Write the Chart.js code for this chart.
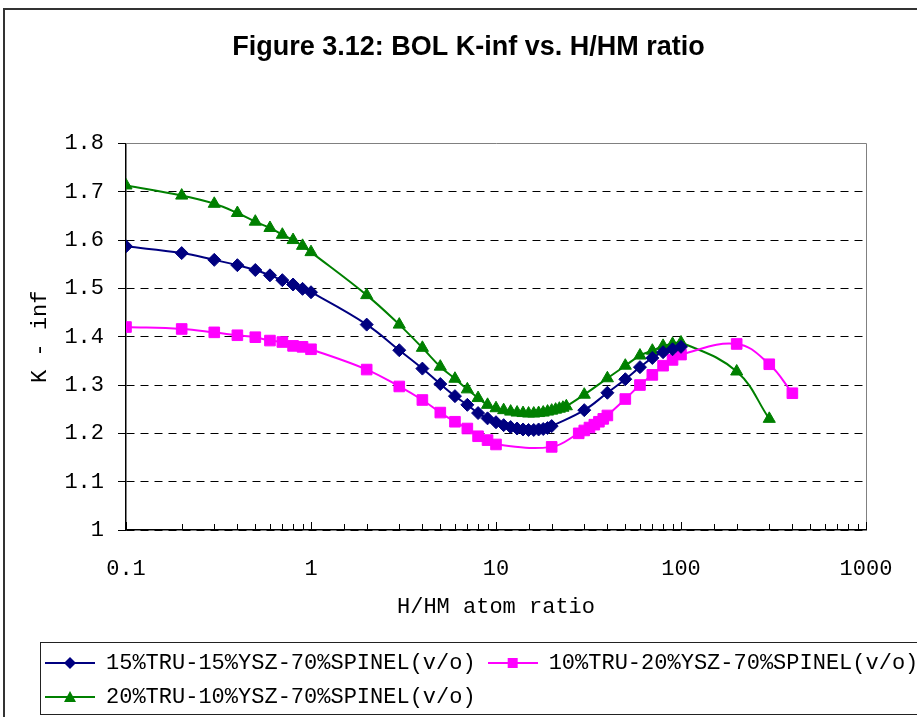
<!DOCTYPE html>
<html>
<head>
<meta charset="utf-8">
<script src="https://cdn.jsdelivr.net/npm/chart.js"></script>
<style>
  html, body { margin: 0; padding: 0; background: #fff; overflow: hidden; width: 917px; height: 717px; }
  #frame { position: absolute; left: 3px; top: 8px; width: 1000px; height: 800px; border-left: 2px solid #333; border-top: 2px solid #333; }
  #c { position: absolute; left: 0; top: 0; }
</style>
</head>
<body>
<div id="frame"></div>
<canvas id="c" width="950" height="740"></canvas>
<script>
// H/HM atom ratio for each series
const blueX  = [0.1, 0.2, 0.3, 0.4, 0.5, 0.6, 0.7, 0.8, 0.9, 1, 2, 3, 4, 5, 6, 7, 8, 9,
                10, 11, 12, 13, 14, 15, 16, 17, 18, 19, 20, 30, 40, 50, 60, 70, 80, 90, 100];
const blueK  = [1.587, 1.573, 1.559, 1.548, 1.538, 1.527, 1.517, 1.508, 1.499, 1.492,
                1.425, 1.372, 1.334, 1.302, 1.277, 1.259, 1.242, 1.231,
                1.223, 1.217, 1.213, 1.210, 1.208, 1.207, 1.207, 1.208, 1.209, 1.211, 1.215,
                1.248, 1.284, 1.312, 1.337, 1.356, 1.368, 1.374, 1.379];

const pinkX  = [0.1, 0.2, 0.3, 0.4, 0.5, 0.6, 0.7, 0.8, 0.9, 1, 2, 3, 4, 5, 6, 7, 8, 9, 10,
                20, 28, 30, 32, 34, 36, 38, 40, 50, 60, 70, 80, 90, 100, 200, 300, 400];
const pinkK  = [1.420, 1.416, 1.409, 1.403, 1.399, 1.392, 1.389, 1.381, 1.379, 1.374,
                1.332, 1.297, 1.269, 1.243, 1.224, 1.210, 1.194, 1.186, 1.177,
                1.172, 1.200, 1.206, 1.212, 1.218, 1.224, 1.230, 1.237,
                1.271, 1.300, 1.321, 1.340, 1.352, 1.363, 1.385, 1.343, 1.283];

const greenX = [0.1, 0.2, 0.3, 0.4, 0.5, 0.6, 0.7, 0.8, 0.9, 1, 2, 3, 4, 5, 6, 7, 8, 9,
                10, 11, 12, 13, 14, 15, 16, 17, 18, 19, 20, 21, 22, 23, 24,
                30, 40, 50, 60, 70, 80, 90, 100, 200, 300];
const greenK = [1.713, 1.692, 1.675, 1.656, 1.638, 1.625, 1.611, 1.600, 1.588, 1.575,
                1.486, 1.425, 1.377, 1.338, 1.313, 1.291, 1.273, 1.259,
                1.252, 1.248, 1.245, 1.243, 1.242, 1.241, 1.241, 1.242, 1.243, 1.245, 1.247, 1.249, 1.251, 1.253, 1.256,
                1.280, 1.314, 1.340, 1.361, 1.371, 1.381, 1.385, 1.388, 1.328, 1.230];

const seriesNames = ['15%TRU-15%YSZ-70%SPINEL(v/o)', '10%TRU-20%YSZ-70%SPINEL(v/o)', '20%TRU-10%YSZ-70%SPINEL(v/o)'];
const xTickLabels = [0.1, 1, 10, 100, 1000];
const yTicks = [1, 1.1, 1.2, 1.3, 1.4, 1.5, 1.6, 1.7, 1.8];

const W = 950;
const mono = 'Liberation Mono, DejaVu Sans Mono, monospace';

function pts(xs, ys) {
  return xs.map((x, i) => ({ x: x, y: ys[i] }));
}

// legend icons: short line with the marker in the middle
function icon(color, shape) {
  const c = document.createElement('canvas');
  c.width = 50; c.height = 16;
  const g = c.getContext('2d');
  g.strokeStyle = color; g.fillStyle = color; g.lineWidth = 2;
  g.beginPath(); g.moveTo(0, 8); g.lineTo(50, 8); g.stroke();
  g.beginPath();
  if (shape === 'diamond') {
    g.moveTo(25, 2); g.lineTo(31, 8); g.lineTo(25, 14); g.lineTo(19, 8);
  } else if (shape === 'square') {
    g.rect(20, 3, 10, 10);
  } else {
    g.moveTo(25, 2); g.lineTo(31, 13); g.lineTo(19, 13);
  }
  g.closePath(); g.fill();
  return c;
}
const icons = [icon('#000080', 'diamond'), icon('#ff00ff', 'square'), icon('#008000', 'triangle')];

const decorations = {
  id: 'decorations',
  afterLayout(chart) {
    // original title sits a bit left of the wide canvas centre
    chart.titleBlock.left -= 23;
    chart.titleBlock.right -= 23;
  },
  beforeDatasetsDraw(chart) {
    const { ctx, chartArea: a, scales: { x } } = chart;
    const top = Math.round(a.top) + 0.5, right = Math.round(a.right) + 0.5;
    ctx.save();
    ctx.strokeStyle = '#808080';
    ctx.lineWidth = 1;
    ctx.beginPath();
    ctx.moveTo(a.left, top); ctx.lineTo(right, top); ctx.lineTo(right, a.bottom);
    ctx.stroke();
    // x tick marks pointing into the plot
    ctx.strokeStyle = '#000';
    ctx.beginPath();
    x.ticks.forEach(t => {
      const px = Math.round(x.getPixelForValue(t.value)) + 0.5;
      const len = t.label ? 8 : 6;
      ctx.moveTo(px, a.bottom); ctx.lineTo(px, a.bottom - len);
    });
    ctx.stroke();
    ctx.restore();
  },
  afterDraw(chart) {
    const L = chart.legend, ctx = chart.ctx;
    ctx.save();
    ctx.strokeStyle = '#222';
    ctx.lineWidth = 1;
    ctx.strokeRect(Math.round(L.left) + 7.5, Math.round(L.top) + 2.5, L.right - L.left - 12, 72);
    ctx.restore();
  }
};

new Chart(document.getElementById('c'), {
  type: 'line',
  data: {
    datasets: [
      { label: seriesNames[0], data: pts(blueX, blueK), borderColor: '#000080', backgroundColor: '#000080',
        pointStyle: 'rectRot', pointRadius: 6.5, borderWidth: 2, pointBorderWidth: 1, tension: 0.4 },
      { label: seriesNames[1], data: pts(pinkX, pinkK), borderColor: '#ff00ff', backgroundColor: '#ff00ff',
        pointStyle: 'rect', pointRadius: 7.5, borderWidth: 2, pointBorderWidth: 1, tension: 0.4 },
      { label: seriesNames[2], data: pts(greenX, greenK), borderColor: '#008000', backgroundColor: '#008000',
        pointStyle: 'triangle', pointRadius: 7, borderWidth: 2, pointBorderWidth: 1, tension: 0.4 }
    ]
  },
  options: {
    responsive: false,
    animation: false,
    layout: { padding: { left: 33, right: 0, top: 0, bottom: 22 } },
    plugins: {
      title: {
        display: true,
        text: 'Figure 3.12: BOL K-inf vs. H/HM ratio',
        color: '#000',
        font: { family: 'Liberation Sans, Arial, sans-serif', size: 27, weight: 'bold' },
        padding: { top: 31, bottom: 80 }
      },
      legend: {
        position: 'bottom',
        align: 'start',
        labels: {
          usePointStyle: true,
          pointStyleWidth: 50,
          padding: 12,
          color: '#000',
          font: { family: mono, size: 22 },
          generateLabels(chart) {
            const items = Chart.defaults.plugins.legend.labels.generateLabels(chart);
            items.forEach((it, i) => { it.pointStyle = icons[i]; });
            return items;
          }
        }
      },
      tooltip: { enabled: false }
    },
    scales: {
      x: {
        type: 'logarithmic',
        min: 0.1,
        max: 1000,
        afterFit(s) { s.height = 110; },
        ticks: {
          autoSkip: false,
          maxRotation: 0,
          color: '#000',
          padding: 26,
          font: { family: mono, size: 22 },
          callback(v) {
            const n = Number(v.toPrecision(6));
            return xTickLabels.includes(n) ? String(n) : '';
          }
        },
        grid: { display: false, drawTicks: false },
        border: { display: true, color: '#000', width: 1.5 },
        title: {
          display: true, text: 'H/HM atom ratio', color: '#000',
          font: { family: mono, size: 22 }, padding: { top: 0, bottom: 20 }
        }
      },
      y: {
        min: yTicks[0],
        max: yTicks[yTicks.length - 1],
        afterFit(s) { s.width = 126 - 33; },
        ticks: {
          stepSize: 0.1,
          color: '#000',
          padding: 14,
          font: { family: mono, size: 22 },
          callback(v) { return String(Math.round(v * 10) / 10); }
        },
        grid: {
          color: c => (c.tick && c.tick.value >= 1.79 ? 'rgba(0,0,0,0)' : '#000'),
          tickColor: '#000',
          tickLength: 8,
          lineWidth: 1
        },
        border: { display: true, color: '#000', width: 1.5, dash: [8, 6] },
        title: {
          display: true, text: 'K - inf', color: '#000',
          font: { family: mono, size: 22 }, padding: { top: -6, bottom: 0 }
        }
      },
      yRight: {
        axis: 'y',
        position: 'right',
        display: true,
        afterFit(s) { s.width = W - 866; },
        ticks: { display: false },
        grid: { display: false },
        border: { display: false }
      }
    }
  },
  plugins: [decorations]
});
</script>
</body>
</html>
